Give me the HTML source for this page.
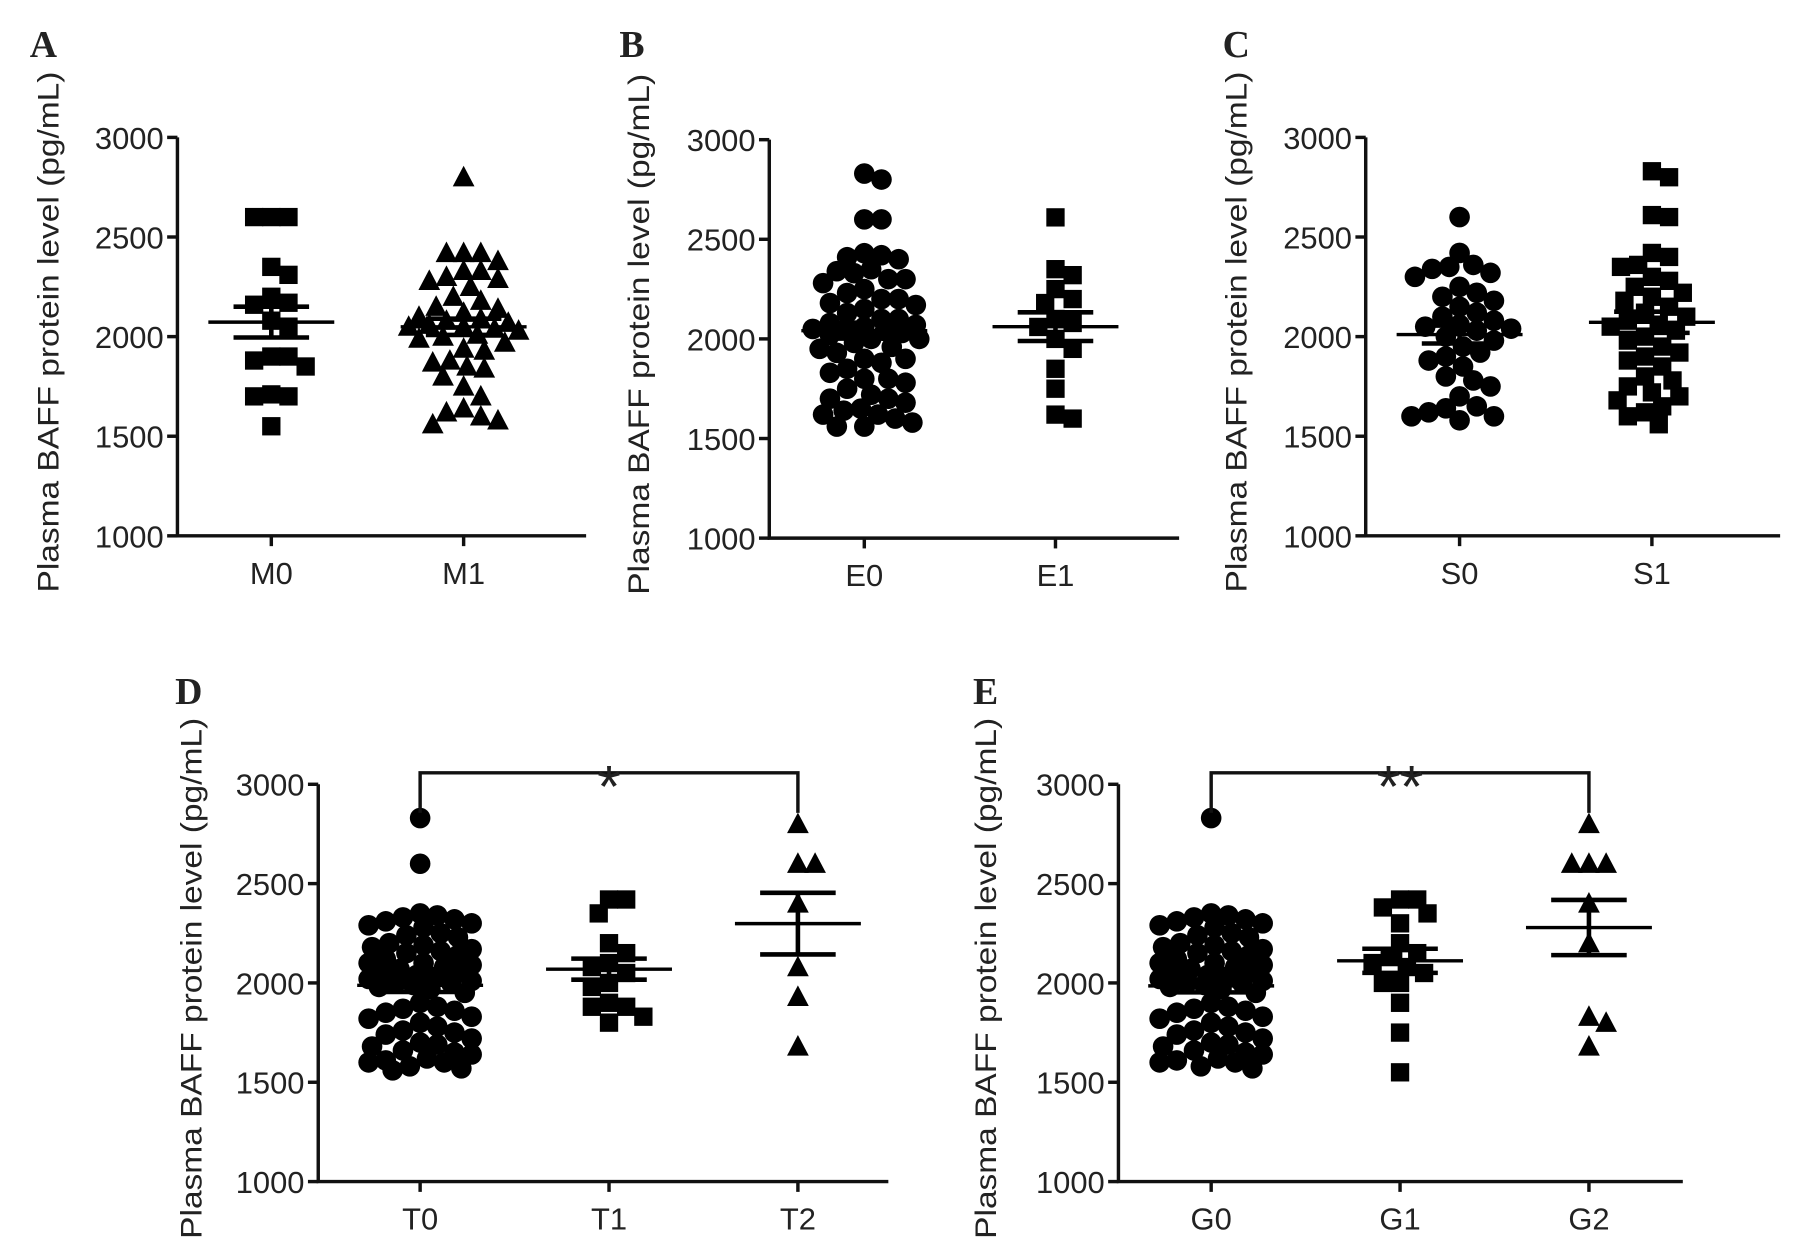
<!DOCTYPE html>
<html><head><meta charset="utf-8"><style>
html,body{margin:0;padding:0;background:#fff;}
svg{display:block;}
text{font-family:"Liberation Sans",Arial,sans-serif;fill:#222;}
</style></head><body>
<svg id="fig" width="1795" height="1256" viewBox="0 0 1568 1097" preserveAspectRatio="none" xmlns="http://www.w3.org/2000/svg"></svg>
<script>
const yTicks = [1000, 1500, 2000, 2500, 3000];
const catsA = ['M0', 'M1'];
const valsM0 = [2600,2600,2600,2350,2310,2200,2170,2160,2080,2050,1900,1880,1900,1850,1700,1700,1710,1550];
const valsM1 = [2800,2420,2420,2420,2380,2330,2330,2300,2290,2280,2250,2200,2180,2150,2140,2120,2100,2090,2080,2070,2060,2050,2050,2040,2030,2010,2000,1990,1970,1940,1930,1880,1870,1850,1840,1800,1750,1700,1640,1620,1600,1580,1560];
const catsB = ['E0', 'E1'];
const valsE0 = [2830,2800,2600,2600,2430,2420,2410,2400,2350,2340,2330,2300,2300,2280,2250,2230,2200,2200,2180,2170,2150,2130,2100,2100,2080,2070,2060,2050,2050,2040,2030,2020,2000,2000,1980,1960,1950,1930,1900,1900,1880,1850,1830,1800,1800,1780,1750,1720,1700,1700,1680,1650,1640,1620,1620,1600,1580,1560,1560];
const valsE1 = [2610,2350,2320,2250,2200,2180,2100,2080,2060,2000,1950,1850,1750,1620,1600];
const catsC = ['S0', 'S1'];
const valsS0 = [2600,2420,2360,2350,2340,2320,2300,2250,2220,2200,2180,2150,2120,2100,2080,2060,2050,2040,2030,2000,1980,1950,1920,1900,1880,1850,1800,1780,1750,1700,1650,1640,1620,1600,1600,1580];
const valsS1 = [2830,2800,2610,2600,2420,2400,2360,2350,2300,2280,2250,2220,2200,2180,2150,2120,2100,2080,2060,2050,2030,2000,1980,1950,1920,1900,1880,1850,1800,1780,1750,1720,1700,1680,1650,1620,1600,1560];
const catsD = ['T0', 'T1', 'T2'];
const valsT0 = [2830,2600,2350,2340,2330,2320,2310,2300,2290,2280,2250,2240,2230,2200,2190,2180,2170,2160,2150,2140,2120,2100,2100,2090,2080,2070,2060,2050,2040,2030,2020,2010,2000,2000,1990,1980,1970,1950,1900,1880,1870,1860,1850,1830,1820,1800,1780,1760,1750,1740,1720,1700,1690,1680,1660,1650,1640,1620,1610,1600,1600,1580,1570,1560];
const valsT1 = [2420,2420,2350,2200,2150,2100,2080,2050,2000,1980,1900,1880,1880,1830,1800];
const valsT2 = [2800,2600,2600,2400,2080,1930,1680];
const catsE = ['G0', 'G1', 'G2'];
const valsG0 = [2830,2350,2340,2330,2320,2310,2300,2290,2280,2250,2240,2230,2200,2190,2180,2170,2160,2150,2140,2120,2100,2100,2090,2080,2070,2060,2050,2040,2030,2020,2010,2000,2000,1990,1980,1970,1950,1900,1880,1870,1860,1850,1830,1820,1800,1780,1760,1750,1740,1720,1700,1690,1680,1660,1650,1640,1620,1610,1600,1600,1580,1570];
const valsG1 = [2420,2420,2380,2350,2300,2200,2150,2130,2100,2080,2050,2000,2000,1900,1750,1550];
const valsG2 = [2800,2600,2600,2600,2400,2200,1830,1800,1680];

const NS = 'http://www.w3.org/2000/svg';
const svg = document.getElementById('fig');
function mk(tag, attrs, parent) {
  const e = document.createElementNS(NS, tag);
  for (const k in attrs) e.setAttribute(k, attrs[k]);
  (parent || svg).appendChild(e);
  return e;
}
function mean(a){return a.reduce((s,v)=>s+v,0)/a.length;}
function sem(a){const m=mean(a);const v=a.reduce((s,x)=>s+(x-m)*(x-m),0)/(a.length-1);return Math.sqrt(v/a.length);}

function drawPanel(p) {
  const g = mk('g', {});
  
  
  const yS = v => p.yBot - (v - 1000) / 2000 * (p.yBot - p.yTop);
  const xS = i => p.x0 + p.first + i * p.step;
  const L = mk('text', {x: p.lx, y: p.ly, 'font-size': 33, 'font-weight': 'bold', style: 'font-family:"Liberation Serif",serif', fill: '#111'}, g);
  L.textContent = p.letter;
  
  
  const ax = mk('path', {d: `M${p.x0},${p.yTop} V${p.yBot} H${p.xEnd}`, stroke: '#111', 'stroke-width': 3, fill: 'none'}, g);
  
  
  yTicks.forEach(t => {
    const y = yS(t);
    mk('line', {x1: p.x0 - 9, x2: p.x0, y1: y, y2: y, stroke: '#111', 'stroke-width': 3}, g);
    const tl = mk('text', {x: p.x0 - 12, y: y + 10, 'font-size': 27, 'text-anchor': 'end'}, g);
    tl.textContent = t;
    
    
  });
  p.cats.forEach((c, i) => {
    const x = xS(i);
    mk('line', {x1: x, x2: x, y1: p.yBot, y2: p.yBot + 9, stroke: '#111', 'stroke-width': 3}, g);
    const cl = mk('text', {x: x, y: p.yBot + 42, 'font-size': 27, 'text-anchor': 'middle'}, g);
    cl.textContent = c;
    
    
  });
  const cy = (p.yTop + p.yBot) / 2 - 4;
  const yl = mk('text', {x: 0, y: 0, 'font-size': 26, 'text-anchor': 'middle', textLength: 455, lengthAdjust: 'spacingAndGlyphs', transform: `translate(${p.ylx},${cy}) rotate(-90)`}, g);
  yl.textContent = 'Plasma BAFF protein level (pg/mL)';
  
  
  p.series.forEach((s, i) => {
    const cx = xS(i);
    const placed = [];
    const D = 15;
    const sorted = s.vals.slice().sort((a, b) => b - a);
    sorted.forEach(v => {
      const y = yS(v);
      let best = 0, bestC = 1e9;
      for (let k = 0; k <= 40; k++) {
        const off = (k % 2 ? 1 : -1) * Math.ceil(k / 2) * 3;
        if (Math.abs(off) > p.maxW) continue;
        let col = 0;
        placed.forEach(q => { const d = Math.hypot(q[0] - off, q[1] - y); if (d < D) col += D - d; });
        if (col < bestC - 0.01) { bestC = col; best = off; }
        if (col === 0) break;
      }
      placed.push([best, y]);
      const x = cx + best;
      let m;
      if (s.shape === 'sq') m = mk('rect', {x: x - 8, y: y - 8, width: 16, height: 16, fill: '#000'}, g);
      else if (s.shape === 'ci') m = mk('circle', {cx: x, cy: y, r: 9, fill: '#000'}, g);
      else m = mk('path', {d: `M${x},${y - 10} L${x + 9.5},${y + 8} L${x - 9.5},${y + 8} Z`, fill: '#000'}, g);
      
      
    });
    const mu = mean(s.vals), se = sem(s.vals);
    const ym = yS(mu), yh = yS(mu + se), ylo = yS(mu - se);
    const ml = mk('line', {x1: cx - 55, x2: cx + 55, y1: ym, y2: ym, stroke: '#000', 'stroke-width': 3}, g);
    
    
    const eb = mk('path', {d: `M${cx - 33},${yh} H${cx + 33} M${cx - 33},${ylo} H${cx + 33} M${cx},${yh} V${ylo}`, stroke: '#000', 'stroke-width': 4, fill: 'none'}, g);
    
    
  });
  if (p.sig) {
    const x1 = xS(0), x2 = xS(p.cats.length - 1), yb = p.yTop - 10;
    const br = mk('path', {d: `M${x1},${p.yTop + 25} V${yb} H${x2} V${p.yTop + 25}`, stroke: '#111', 'stroke-width': 3, fill: 'none'}, g);
    
    
    const st = mk('text', {x: (x1 + x2) / 2, y: yb + 30, 'font-size': 52, 'text-anchor': 'middle', fill: '#333'}, g);
    st.textContent = p.sig;
    
    
  }
}

drawPanel({letter:'A', lx:26, ly:50, ylx:51, x0:155, xEnd:512, yTop:120, yBot:468, first:82, step:168, maxW:48, cats:catsA,
  series:[{vals:valsM0, shape:'sq'},{vals:valsM1, shape:'tr'}]});
drawPanel({letter:'B', lx:541, ly:50, ylx:567, x0:672, xEnd:1030, yTop:122, yBot:470, first:83, step:167, maxW:48, cats:catsB,
  series:[{vals:valsE0, shape:'ci'},{vals:valsE1, shape:'sq'}]});
drawPanel({letter:'C', lx:1068, ly:50, ylx:1089, x0:1193, xEnd:1555, yTop:120, yBot:468, first:82, step:168, maxW:48, cats:catsC,
  series:[{vals:valsS0, shape:'ci'},{vals:valsS1, shape:'sq'}]});
drawPanel({letter:'D', lx:153, ly:615, ylx:176, x0:278, xEnd:776, yTop:685, yBot:1032, first:89, step:165, maxW:45, cats:catsD, sig:'*',
  series:[{vals:valsT0, shape:'ci'},{vals:valsT1, shape:'sq'},{vals:valsT2, shape:'tr'}]});
drawPanel({letter:'E', lx:850, ly:615, ylx:870, x0:977, xEnd:1470, yTop:685, yBot:1032, first:81, step:165, maxW:45, cats:catsE, sig:'**',
  series:[{vals:valsG0, shape:'ci'},{vals:valsG1, shape:'sq'},{vals:valsG2, shape:'tr'}]});
</script>
</body></html>
